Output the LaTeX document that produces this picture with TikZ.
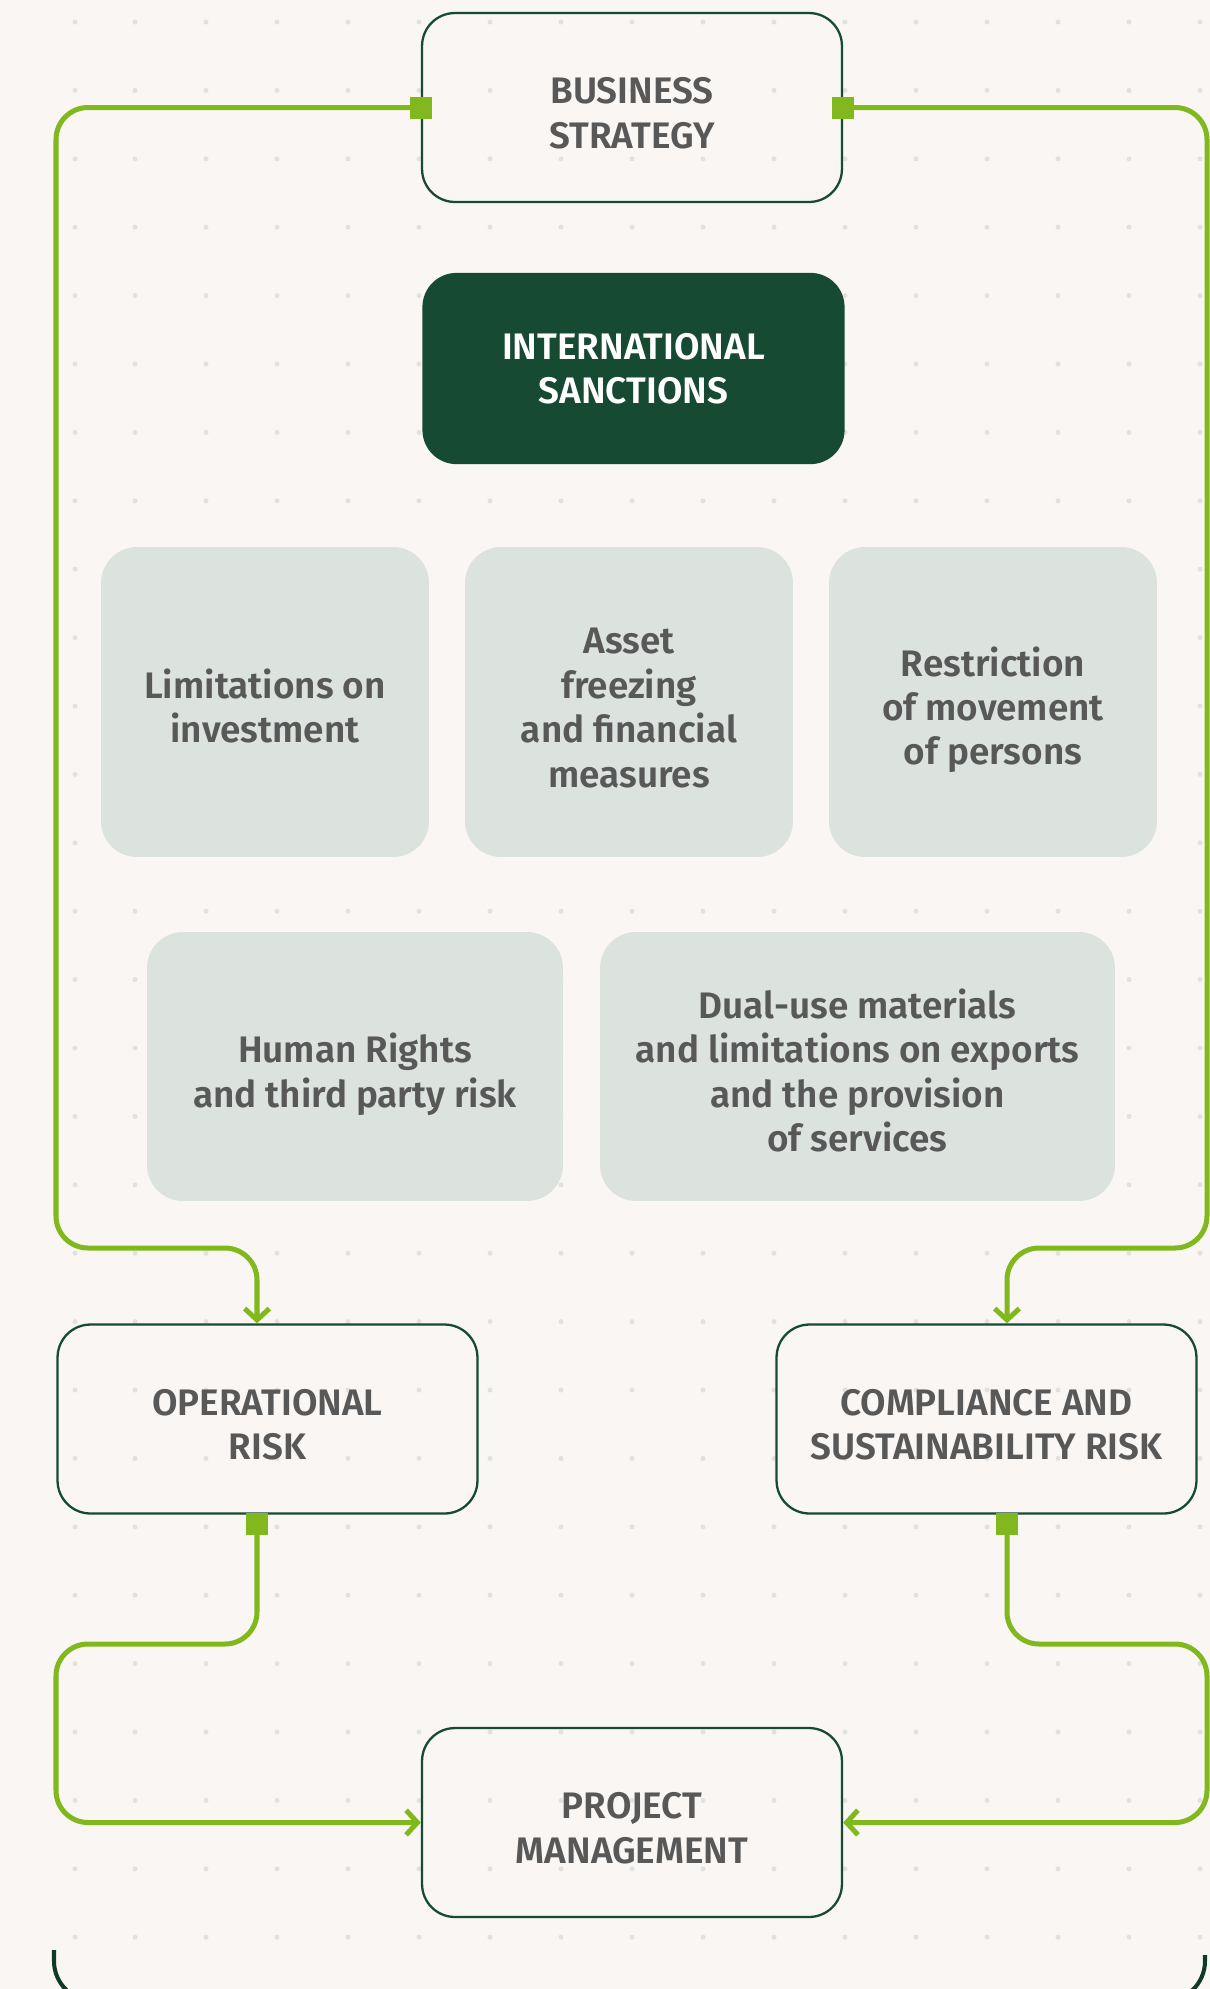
\documentclass[tikz,border=0pt]{standalone}
\usepackage{fontspec}
\setmainfont{Fira Sans}
\newfontfamily\labelfont{Fira Sans SemiBold}
\usetikzlibrary{arrows.meta,calc}

\definecolor{paper}{HTML}{F9F6F3}
\definecolor{dotgray}{HTML}{E3E0DD}
\definecolor{darkgreen}{HTML}{164A33}
\definecolor{framegreen}{HTML}{0F3A24}
\definecolor{linkgreen}{HTML}{80B81E}
\definecolor{boxgray}{HTML}{DCE2DE}
\definecolor{textgray}{HTML}{585858}

% taller first line, so the label sits a little low in its box
\newcommand\capstrut{\rule{0pt}{21pt}}

\tikzset{
>={Straight Barb[length=6.5pt,width=14pt]},
box text/.style={font=\labelfont\fontsize{21}{25.3}\selectfont,text=textgray,align=center,text depth=0pt},
outline box/.style={box text,draw=darkgreen,line width=1.3pt,rounded corners=0.66cm,minimum width=8.4cm,minimum height=3.78cm},
grey box/.style={box text,fill=boxgray,rounded corners=0.72cm,minimum width=6.56cm,minimum height=6.2cm},
port/.style={fill=linkgreen,minimum size=0.44cm,inner sep=0pt},
link/.style={draw=linkgreen,line width=2.85pt,rounded corners=0.64cm}}

\begin{document}
\begin{tikzpicture}[x=0.02cm,y=-0.02cm]
  \useasboundingbox (0,0) rectangle (1210,1989);
  \fill[paper] (0,0) rectangle (1210,1989);

  % dotted grid
  \foreach \x in {75,135,206,277,348,419,490,561,632,703,774,845,916,987,1058,1129,1200}
    \foreach \j in {0,...,28}
      \fill[dotgray] (\x,{22+68.4*\j}) circle (0.05cm);

  \node[outline box] (strategy) at (632,107.5) {\capstrut BUSINESS\\STRATEGY};
  \node[outline box,fill=darkgreen,text=white] (sanctions) at (633.5,368.5) {INTERNATIONAL\\SANCTIONS};

  \node[grey box] (investment) at (265,702) {\capstrut Limitations on\\investment};
  \node[grey box] (freezing) at (629,702) {\capstrut Asset\\freezing\\and financial\\measures};
  \node[grey box] (movement) at (993,702) {\capstrut Restriction\\of movement\\of persons};
  \node[grey box,minimum width=8.32cm,minimum height=5.38cm] (rights) at (355,1066.5) {\capstrut Human Rights\\and third party risk};
  \node[grey box,minimum width=10.3cm,minimum height=5.38cm] (dualuse) at (857.5,1066.5) {\capstrut Dual-use materials\\and limitations on exports\\and the provision\\of services};

  \node[outline box] (oprisk) at (267.5,1419) {\capstrut OPERATIONAL\\RISK};
  \node[outline box] (comprisk) at (986.5,1419) {\capstrut COMPLIANCE AND\\SUSTAINABILITY RISK};
  \node[outline box] (project) at (632,1822.5) {\capstrut PROJECT\\MANAGEMENT};

  \node[port] (strategy-w) at (strategy.west) {};
  \node[port] (strategy-e) at (strategy.east) {};
  \node[port] (oprisk-s) at (257,1524) {};
  \node[port] (comprisk-s) at (1007,1524) {};

  % feedback loops
  \draw[link,->] (strategy-w.center) -| (56,1248) -| (oprisk-s |- oprisk.north);
  \draw[link,->] (strategy-e.center) -| (1207,1248) -| (comprisk-s |- comprisk.north);
  \draw[link,->] (oprisk-s.center) |- (56,1644) |- (project.west);
  \draw[link,->] (comprisk-s.center) |- (1207,1644) |- (project.east);
  \node[port] at (strategy-w) {};
  \node[port] at (strategy-e) {};
  \node[port] at (oprisk-s) {};
  \node[port] at (comprisk-s) {};

  % frame below
  \begin{scope}
    \clip (0,0) rectangle (1210,1989);
    \draw[framegreen,line width=2.3pt,rounded corners=0.8cm] (54,1950) -- (54,2001) -- (1205,2001) -- (1205,1955);
  \end{scope}
\end{tikzpicture}
\end{document}
